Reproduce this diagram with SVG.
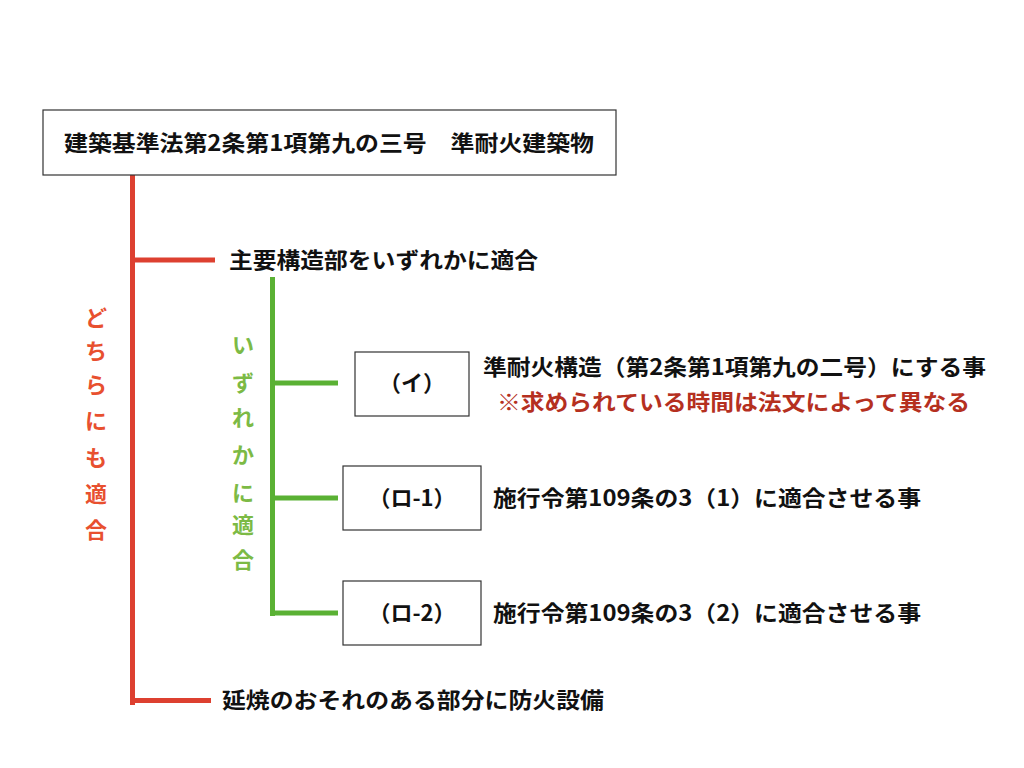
<svg xmlns="http://www.w3.org/2000/svg" width="1024" height="768" viewBox="0 0 1024 768">
<style>
.t{font-family:"Noto Sans CJK JP","Noto Sans",sans-serif;font-weight:bold;font-size:22px;fill:#111}
.box{fill:#fff;stroke:#333;stroke-width:1.2}
.red{stroke:#dd4030;stroke-width:5;fill:none}
.grn{stroke:#5ab134;stroke-width:5;fill:none}
.vr{font-family:"Noto Sans CJK JP",sans-serif;font-weight:bold;font-size:22px;fill:#e8502f;text-anchor:middle}
.vg{font-family:"Noto Sans CJK JP",sans-serif;font-weight:bold;font-size:22px;fill:#7cba45;text-anchor:middle}
</style>
<rect width="1024" height="768" fill="#fff"/>
<g id="connectors">
<path class="red" d="M132.5 175 V705 M132.5 260 H215 M132.5 700.5 H211"/>
<path class="grn" d="M272.5 277 V616 M272.5 383 H338 M272.5 498 H338 M272.5 613 H338"/>
</g>
<g id="root">
<rect class="box" x="43" y="110" width="573" height="65"/>
<text class="t" x="64" y="151" textLength="530" lengthAdjust="spacingAndGlyphs">建築基準法第2条第1項第九の三号　準耐火建築物</text>
</g>
<g id="main">
<text class="t" x="229" y="268" textLength="309" lengthAdjust="spacingAndGlyphs">主要構造部をいずれかに適合</text>
</g>
<g id="label-red">
<text class="vr" x="96" y="326">ど</text>
<text class="vr" x="96" y="359">ち</text>
<text class="vr" x="96" y="393">ら</text>
<text class="vr" x="96" y="429">に</text>
<text class="vr" x="96" y="466">も</text>
<text class="vr" x="96" y="502">適</text>
<text class="vr" x="96" y="538">合</text>
</g>
<g id="label-green">
<text class="vg" x="243" y="353">い</text>
<text class="vg" x="243" y="391">ず</text>
<text class="vg" x="243" y="426">れ</text>
<text class="vg" x="243" y="463">か</text>
<text class="vg" x="243" y="501">に</text>
<text class="vg" x="243" y="533">適</text>
<text class="vg" x="243" y="568">合</text>
</g>
<g id="node-i">
<rect class="box" x="355" y="352" width="114" height="64"/>
<text class="t" x="412" y="391" text-anchor="middle">（イ）</text>
<text class="t" x="483" y="375" textLength="503" lengthAdjust="spacingAndGlyphs">準耐火構造（第2条第1項第九の二号）にする事</text>
<text class="t" x="497" y="410" textLength="473" lengthAdjust="spacingAndGlyphs" style="fill:#b5301f">※求められている時間は法文によって異なる</text>
</g>
<g id="node-ro1">
<rect class="box" x="343" y="466" width="138" height="64"/>
<text class="t" x="412" y="506" text-anchor="middle">（ロ-1）</text>
<text class="t" x="493" y="506" textLength="428" lengthAdjust="spacingAndGlyphs">施行令第109条の3（1）に適合させる事</text>
</g>
<g id="node-ro2">
<rect class="box" x="343" y="581" width="138" height="64"/>
<text class="t" x="412" y="621" text-anchor="middle">（ロ-2）</text>
<text class="t" x="493" y="621" textLength="428" lengthAdjust="spacingAndGlyphs">施行令第109条の3（2）に適合させる事</text>
</g>
<g id="fire">
<text class="t" x="222" y="708" textLength="382" lengthAdjust="spacingAndGlyphs">延焼のおそれのある部分に防火設備</text>
</g>
</svg>
